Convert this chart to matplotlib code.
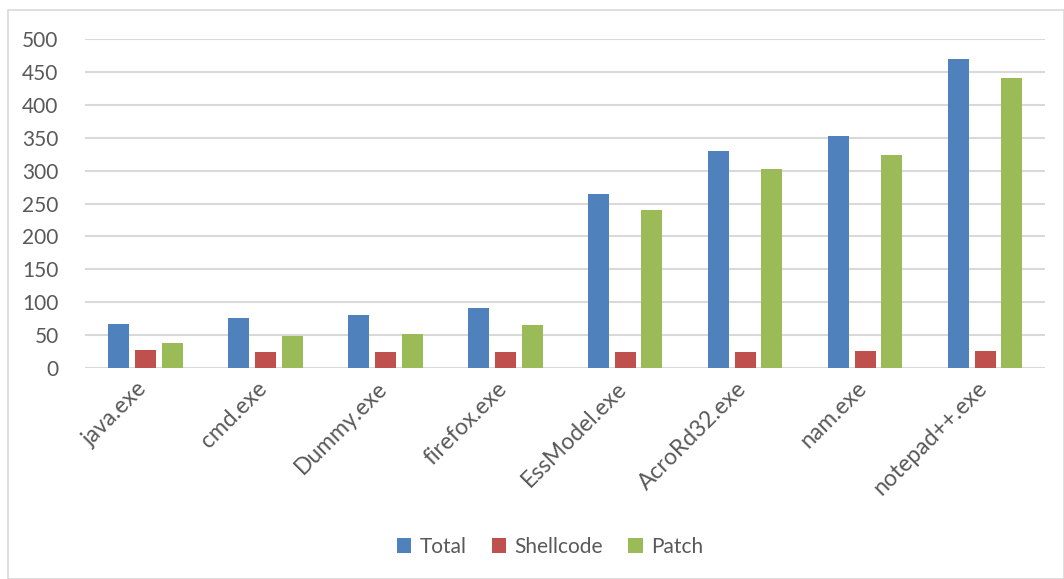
import matplotlib
matplotlib.use("Agg")
import matplotlib.pyplot as plt
import matplotlib.transforms as mtransforms
import numpy as np
from matplotlib.patches import Rectangle

# data
programs = ['java.exe', 'cmd.exe', 'Dummy.exe', 'firefox.exe',
            'EssModel.exe', 'AcroRd32.exe', 'nam.exe', 'notepad++.exe']
total = [67, 76, 80, 91, 265, 330, 352, 469]
shellcode = [27, 25, 25, 24, 24, 24, 26, 26]
patch = [38, 49, 52, 66, 240, 303, 323, 440]

series = ['Total', 'Shellcode', 'Patch']
colors = ['#4F81BD', '#C0504D', '#9BBB59']

plt.rcParams['font.family'] = ['Lato', 'DejaVu Sans']

fig = plt.figure(figsize=(10.64, 5.79), dpi=100)
ax = fig.add_axes([85/1064, 1-368/579, (1045-85)/1064, (368-39)/579])

x = np.arange(len(programs))
w = 0.175
step = 0.225
for i, (vals, name, c) in enumerate(zip([total, shellcode, patch], series, colors)):
    ax.bar(x + (i-1)*step, vals, w, color=c, label=name, zorder=3)

ax.set_xlim(-0.5, len(programs)-0.5)
ax.set_ylim(0, 500)
ax.set_yticks(np.arange(0, 501, 50))
ax.yaxis.grid(True, color='#d9d9d9', linewidth=1.5, zorder=0)
for s in ax.spines.values():
    s.set_visible(False)
ax.tick_params(axis='both', length=0, labelsize=15, colors='#595959')
ax.tick_params(axis='y', pad=19)
ax.set_xticks(x)
ax.set_xticklabels(programs, rotation=45, ha='right', rotation_mode='anchor', fontsize=16.5)
ax.tick_params(axis='x', pad=7)
shift = mtransforms.ScaledTranslation(-9/100, 0, fig.dpi_scale_trans)
for lbl in ax.get_xticklabels():
    lbl.set_transform(lbl.get_transform() + shift)

fig.legend(loc='center', bbox_to_anchor=(550/1064, 1-547/579), ncol=3,
           frameon=False, fontsize=15, handlelength=0.7, handleheight=0.7,
           handletextpad=0.4, columnspacing=1.2, labelcolor='#595959')

fig.patches.append(Rectangle((8/1064, 0), 1 - 8/1064, 1-10/579, transform=fig.transFigure,
                             fill=False, edgecolor='#d9d9d9', linewidth=1.2))

fig.savefig('out.png', dpi=100)
